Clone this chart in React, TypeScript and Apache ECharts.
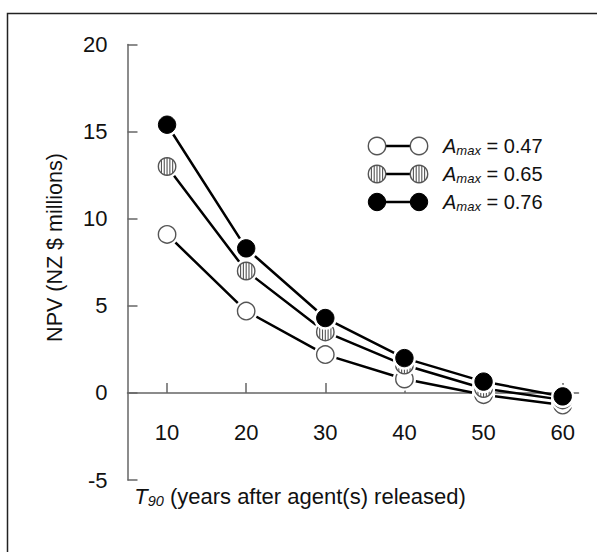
import React, { useEffect, useRef } from "react";
import * as echarts from "echarts";

// T90 values (years after agent(s) released)
const years = [10, 20, 30, 40, 50, 60];
// NPV (NZ $ millions) for each Amax
const npvAmax047 = [9.1, 4.7, 2.2, 0.8, -0.1, -0.7];
const npvAmax065 = [13.0, 7.0, 3.5, 1.6, 0.25, -0.4];
const npvAmax076 = [15.4, 8.3, 4.3, 2.0, 0.65, -0.2];
const legendLabels = ["0.47", "0.65", "0.76"];
const yTicks = { min: -5, max: 20, step: 5 };

const FONT = "'Liberation Sans', Arial, sans-serif";
const INK = "#111";
const GREY = "#555";
const R = 8.7;

const GRID_TOP = 44.6;
const GRID_HEIGHT = 435.4;
// pixels between the bottom of the grid and the value 0 on the y axis
const zeroLift = (GRID_HEIGHT * (0 - yTicks.min)) / (yTicks.max - yTicks.min);

type Kind = "open" | "hatched" | "filled";

// One circular marker (with a white halo so lines stop short of it)
function markerElements(kind: Kind, cx: number, cy: number, halo = true): any[] {
  const els: any[] = [];
  if (halo) {
    els.push({ type: "circle", shape: { cx, cy, r: R + 3 }, style: { fill: "#fff" } });
  }
  if (kind === "filled") {
    els.push({ type: "circle", shape: { cx, cy, r: R }, style: { fill: "#000", stroke: "#000", lineWidth: 1 } });
  } else {
    els.push({ type: "circle", shape: { cx, cy, r: R }, style: { fill: "#fff", stroke: GREY, lineWidth: 1.4 } });
    if (kind === "hatched") {
      [-5.6, -2.8, 0, 2.8, 5.6].forEach((dx) => {
        const h = Math.sqrt(R * R - dx * dx);
        els.push({
          type: "line",
          shape: { x1: cx + dx, y1: cy - h, x2: cx + dx, y2: cy + h },
          style: { stroke: GREY, lineWidth: 1.1 },
        });
      });
    }
  }
  return els;
}

function pairs(values: number[]) {
  return years.map((y, i) => [y, values[i]]);
}

function seriesFor(name: string, values: number[], kind: Kind, z: number): any[] {
  return [
    {
      name,
      type: "line",
      data: pairs(values),
      symbol: "none",
      lineStyle: { color: "#000", width: 2.5 },
      z,
      silent: true,
    },
    {
      name: name + " markers",
      type: "custom",
      data: pairs(values),
      clip: false,
      z: z + 1,
      renderItem: (_params: any, api: any) => {
        const p = api.coord([api.value(0), api.value(1)]);
        return { type: "group", children: markerElements(kind, p[0], p[1]) };
      },
    },
  ];
}

const legendKinds: Kind[] = ["open", "hatched", "filled"];
const legendRowsY = [146, 174, 202];

function legendGraphics(): any[] {
  const out: any[] = [];
  legendKinds.forEach((kind, i) => {
    const y = legendRowsY[i];
    out.push({ type: "line", shape: { x1: 377, y1: y, x2: 419, y2: y }, style: { stroke: "#000", lineWidth: 2.5 } });
    out.push(...markerElements(kind, 377, y, false));
    out.push(...markerElements(kind, 419, y, false));
    out.push({
      type: "text",
      x: 443,
      y,
      style: {
        text: `{a|A}{s|max}{n| = ${legendLabels[i]}}`,
        verticalAlign: "middle",
        align: "left",
        fill: INK,
        fontFamily: FONT,
        rich: {
          a: { fontSize: 20, fontStyle: "italic", fontFamily: FONT, fill: INK, lineHeight: 22 },
          s: { fontSize: 13, fontStyle: "italic", fontFamily: FONT, fill: INK, lineHeight: 22, verticalAlign: "bottom" },
          n: { fontSize: 20, fontFamily: FONT, fill: INK, lineHeight: 22 },
        },
      },
    });
  });
  return out;
}

export default function App() {
  const ref = useRef<HTMLDivElement>(null);

  useEffect(() => {
    document.body.style.margin = "0";
    if (!ref.current) return;
    const chart = echarts.init(ref.current, null, { renderer: "svg" });
    const option: any = {
      animation: false,
      backgroundColor: "#fff",
      grid: { left: 127.5, top: GRID_TOP, width: 451, height: GRID_HEIGHT },
      xAxis: {
        type: "value",
        min: 5,
        max: 62,
        position: "bottom",
        offset: -zeroLift,
        splitLine: { show: false },
        axisLine: { show: true, onZero: false, lineStyle: { color: "#666", width: 1.5 } },
        axisTick: { show: true, inside: true, length: 10, customValues: years, lineStyle: { color: "#666", width: 1.5 } },
        axisLabel: { customValues: years, margin: 29, fontSize: 22, color: INK, fontFamily: FONT },
      },
      yAxis: {
        type: "value",
        min: yTicks.min,
        max: yTicks.max,
        interval: yTicks.step,
        splitLine: { show: false },
        axisLine: { show: true, onZero: false, lineStyle: { color: "#666", width: 1.5 } },
        axisTick: { show: true, inside: true, length: 10, lineStyle: { color: "#666", width: 1.5 } },
        axisLabel: { margin: 20, fontSize: 22, color: INK, fontFamily: FONT },
      },
      series: [
        ...seriesFor("Amax = 0.47", npvAmax047, "open", 2),
        ...seriesFor("Amax = 0.65", npvAmax065, "hatched", 4),
        ...seriesFor("Amax = 0.76", npvAmax076, "filled", 6),
      ],
      graphic: [
        {
          // panel border: left and top edges only
          type: "polyline",
          shape: { points: [[7.5, 560], [7.5, 13.5], [600, 13.5]] },
          style: { fill: "none", stroke: "#222", lineWidth: 1.5 },
          silent: true,
        },
        {
          type: "text",
          x: 55,
          y: 247.5,
          rotation: Math.PI / 2,
          style: {
            text: "NPV (NZ $ millions)",
            align: "center",
            verticalAlign: "middle",
            fontSize: 21.5,
            fontFamily: FONT,
            fill: INK,
          },
        },
        {
          type: "text",
          x: 300,
          y: 496,
          style: {
            text: "{t|T}{s|90}{n| (years after agent(s) released)}",
            align: "center",
            verticalAlign: "middle",
            fill: INK,
            fontFamily: FONT,
            rich: {
              t: { fontSize: 22, fontStyle: "italic", fontFamily: FONT, fill: INK, lineHeight: 24 },
              s: { fontSize: 14.5, fontStyle: "italic", fontFamily: FONT, fill: INK, lineHeight: 24, verticalAlign: "bottom" },
              n: { fontSize: 22, fontFamily: FONT, fill: INK, lineHeight: 24 },
            },
          },
        },
        ...legendGraphics(),
      ],
    };
    chart.setOption(option);
    return () => chart.dispose();
  }, []);

  return <div ref={ref} style={{ width: 597, height: 552 }} />;
}
